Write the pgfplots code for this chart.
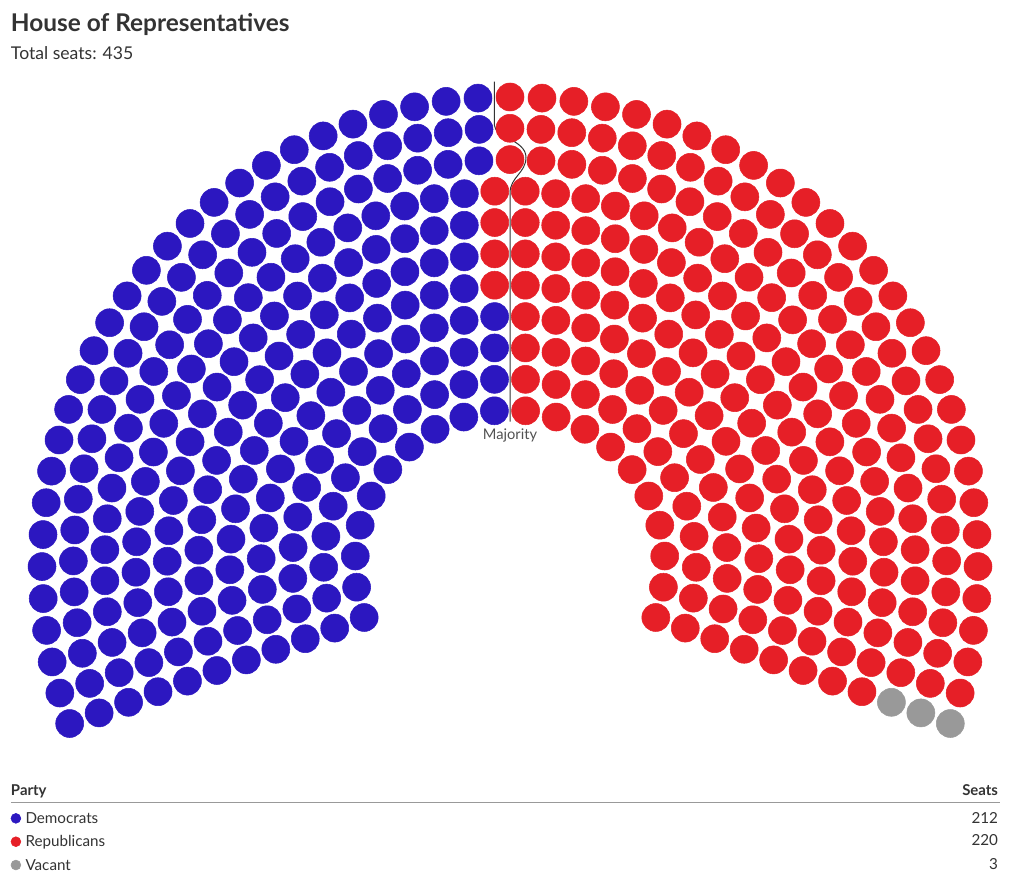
\documentclass[border=0pt]{standalone}
\usepackage{fontspec}
\setmainfont{Lato}
\usepackage{pgfplots}
\usepackage{pgfplotstable}
\pgfplotsset{compat=1.18}
\definecolor{dem}{HTML}{2C17C0}
\definecolor{rep}{HTML}{E61F27}
\definecolor{vac}{HTML}{999999}
\definecolor{txt}{HTML}{333333}

% seats in each ring of the hemicycle, innermost ring first (radius in px)
% within a ring the seats run left to right: Democrats, Republicans, vacant
\pgfplotstableread{
ring radius dem rep vac
0  155.0 10 10 0
1  186.3 12 12 0
2  217.6 14 14 0
3  248.9 16 16 0
4  280.2 17 19 0
5  311.5 19 21 0
6  342.8 21 23 0
7  374.1 23 25 0
8  405.4 25 25 1
9  436.7 27 27 1
10 468.0 28 28 1
}\rings

% lay the seats of each ring out evenly on its arc (199.8 deg down to -19.8 deg)
\def\demlist{}\def\replist{}\def\vaclist{}%
\pgfplotstablegetrowsof{\rings}%
\pgfmathtruncatemacro\lastrow{\pgfplotsretval-1}%
\foreach \i in {0,...,\lastrow}{%
  \pgfplotstablegetelem{\i}{radius}\of\rings \let\ringr\pgfplotsretval
  \pgfplotstablegetelem{\i}{dem}\of\rings \let\nd\pgfplotsretval
  \pgfplotstablegetelem{\i}{rep}\of\rings \let\nr\pgfplotsretval
  \pgfplotstablegetelem{\i}{vac}\of\rings \let\nv\pgfplotsretval
  \pgfmathtruncatemacro\nseat{\nd+\nr+\nv}%
  \pgfmathtruncatemacro\ndr{\nd+\nr}%
  \pgfmathtruncatemacro\lastseat{\nseat-1}%
  \pgfmathsetmacro\seatstep{219.6/(\nseat-1)}%
  \foreach \j in {0,...,\lastseat}{%
    \pgfmathsetmacro\px{\ringr*cos(199.8-\j*\seatstep)}%
    \pgfmathsetmacro\py{\ringr*sin(199.8-\j*\seatstep)}%
    \ifnum\j<\nd
      \xdef\demlist{\demlist (\px,\py)}%
    \else
      \ifnum\j<\ndr
        \xdef\replist{\replist (\px,\py)}%
      \else
        \xdef\vaclist{\vaclist (\px,\py)}%
      \fi
    \fi
  }%
}%

\begin{document}
\begin{tikzpicture}[every node/.style={inner sep=0pt, outer sep=0pt}]
\begin{axis}[
  x=0.75pt, y=0.75pt,
  xmin=-510, xmax=510, ymin=-319, ymax=565,
  hide axis, clip=false,
  legend style={at={(axis cs:-499.3,-247.7)}, anchor=north west,
    draw=none, fill=none, inner sep=0pt, outer sep=0pt,
    font=\fontsize{11.4}{13}\selectfont, text=txt,
    row sep=7pt,
    nodes={inner sep=0pt, text height=8pt, text depth=2.5pt},
    /tikz/every odd column/.append style={column sep=3.3pt}},
  legend cell align=left,
  legend image code/.code={\fill[#1] (0pt,1pt) circle (3.7pt);},
]
\edef\tmp{\noexpand\addplot[only marks, mark=*, mark size=10.5pt, color=dem] coordinates {\demlist};}\tmp
\addlegendentry{Democrats}
\edef\tmp{\noexpand\addplot[only marks, mark=*, mark size=10.5pt, color=rep] coordinates {\replist};}\tmp
\addlegendentry{Republicans}
\edef\tmp{\noexpand\addplot[only marks, mark=*, mark size=10.5pt, color=vac] coordinates {\vaclist};}\tmp
\addlegendentry{Vacant}

% majority line
\draw[color=txt, line width=0.75pt]
  (axis cs:-15.7,483.3) -- (axis cs:-15.7,440)
  .. controls (axis cs:-15.7,428) and (axis cs:16,425) .. (axis cs:16,407.7)
  .. controls (axis cs:16,392) and (axis cs:0,388) .. (axis cs:0,371.7)
  -- (axis cs:0,143.3);
\node[anchor=base, font=\fontsize{11}{13}\selectfont, text=txt!85!white]
  at (axis cs:0,125.5) {Majority};

% title
\node[anchor=base west, font=\fontsize{18.3}{22}\selectfont\bfseries, text=txt]
  at (axis cs:-499,533.3) {House of Representatives};
\node[anchor=base west, font=\fontsize{13.2}{16}\selectfont, text=txt]
  at (axis cs:-499,505) {Total seats: 435};

% table header of the legend
\node[anchor=base west, font=\fontsize{11.2}{13}\selectfont\bfseries, text=txt]
  at (axis cs:-499,-231) {Party};
\node[anchor=base east, font=\fontsize{11.2}{13}\selectfont\bfseries, text=txt]
  at (axis cs:488,-231) {Seats};
\draw[color=vac, line width=0.75pt] (axis cs:-499,-237.3) -- (axis cs:489.5,-237.3);
\node[anchor=base east, font=\fontsize{11.4}{13}\selectfont, text=txt]
  at (axis cs:488,-258.3) {212};
\node[anchor=base east, font=\fontsize{11.4}{13}\selectfont, text=txt]
  at (axis cs:488,-281) {220};
\node[anchor=base east, font=\fontsize{11.4}{13}\selectfont, text=txt]
  at (axis cs:488,-305) {3};
\end{axis}
\pgfresetboundingbox
\path[use as bounding box] (current axis.south west) rectangle (current axis.north east);
\end{tikzpicture}
\end{document}
